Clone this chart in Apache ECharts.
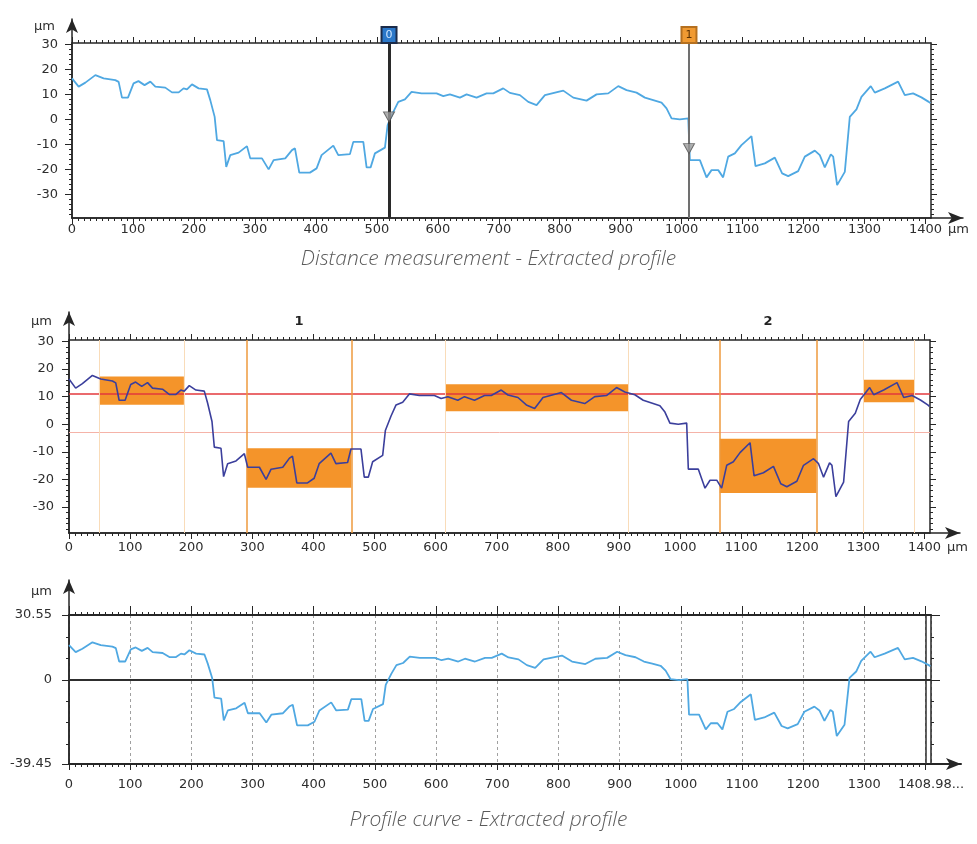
<!DOCTYPE html>
<html><head><meta charset="utf-8">
<script src="https://cdn.jsdelivr.net/npm/echarts@6/dist/echarts.min.js"></script>
<style>html,body{margin:0;padding:0;background:#fff}#c{width:977px;height:844px}</style>
</head><body><div id="c"></div>
<script>
const XMAX = 1408.98;
const Y_MIN = -39.45;
const Y_MAX = 30.55;

const profileX = [0,10.9,21.9,38.3,51.9,71,76.5,82,91.8,101,109,119,128.5,136.7,153,164,175,183,188.6,196.8,207.7,221.4,226.8,234,237.8,248.7,253,259.6,273.3,287,292.4,311.6,322.5,330.7,349.8,360.8,365.7,372.8,390.3,401.2,409.4,428.6,436.8,455.9,461.4,477.8,483.2,489.8,496.9,513.3,517.7,527,535.2,546.1,557,573.4,598,609,619.9,636.3,647.2,663.6,680,691,707.3,718.3,734.7,748.4,762,775.7,805.8,822.2,844,860.4,879.6,896,909.6,926,939.7,953.4,967,975.2,983.4,997,1010.8,1013.5,1029.9,1040.8,1049,1060,1068,1076.3,1087.2,1098.1,1114.5,1121.1,1136.4,1152.8,1164.8,1174.7,1191.1,1202,1218.4,1226.6,1234.8,1244.6,1248.5,1255,1267.6,1275.8,1286.7,1294.9,1310.2,1316.8,1333.2,1355,1366,1379.6,1393.3,1405.3,1408];
const profileY = [16.4,13.1,14.7,17.7,16.4,15.7,15,8.7,8.7,14.4,15.3,13.7,15.1,13.1,12.7,10.8,10.8,12.4,12,14,12.4,12,7.7,1,-8.3,-8.7,-19,-14.3,-13.3,-10.7,-15.6,-15.6,-20,-16.3,-15.6,-12.3,-11.6,-21.3,-21.3,-19.6,-14.3,-10.5,-14.3,-13.9,-9,-9,-19.2,-19.2,-13.6,-11.3,-2.3,3,7,8,11,10.4,10.4,9.3,10,8.7,10,8.7,10.4,10.4,12.4,10.6,9.7,7,5.7,9.7,11.5,8.7,7.5,10,10.4,13.3,11.7,10.7,8.7,7.7,6.7,4.4,0.4,0,0.4,-16.3,-16.3,-23.2,-20.3,-20.3,-23.2,-14.9,-13.6,-10.3,-6.7,-18.7,-17.6,-15.3,-21.6,-22.7,-20.7,-14.9,-12.5,-14.3,-19.2,-14,-14.9,-26.3,-21,1,4,9,13.3,10.7,12.4,15.1,9.7,10.4,8.8,7,6.5];

const xTickLabels = [0,100,200,300,400,500,600,700,800,900,1000,1100,1200,1300,1400];
const profileXLabels = [0,100,200,300,400,500,600,700,800,900,1000,1100,1200,1300,XMAX];
const yTickLabels = [30,20,10,0,-10,-20,-30];
const profileTickLabels = [30.55,0,-39.45];
const profileMinorY = [20,10,-10,-20,-30];

const cursorX = [520,1012];
const cursorY = [1,-11.7];
const cursorNames = ['0','1'];

const boxX0 = [49,291,616,1065,1300];
const boxX1 = [188,462,915,1223,1383];
const boxYTop = [17.3,-8.7,14.5,-5.3,16.1];
const boxYBottom = [7.1,-23,4.7,-24.9,8];
const regionNames = ['1','2'];
const regionX0 = [291,1065];
const regionX1 = [462,1223];
const faintX = [49,188,616,915,1300,1383];
const meanLevel = 10.9;
const lowerLevel = -2.9;

const xMinor = []; for (let v = 0; v <= 1400; v += 10) xMinor.push(v);
const yMinor = []; for (let v = -38; v <= 30; v += 2) yMinor.push(v);

const profileData = profileX.map((x,i)=>[x, profileY[i]]);

const grids=[], xAxes=[], yAxes=[], series=[];
function addX(o){xAxes.push(o);return xAxes.length-1;}
function addY(o){yAxes.push(o);return yAxes.length-1;}
const LINE = '#262626';
const labelFont = {fontFamily:'DejaVu Sans', fontSize:13, color:'#2e2e2e'};
const hide = {axisLine:{show:false,onZero:false}, axisTick:{show:false}, axisLabel:{show:false}, splitLine:{show:false}};
function tick(vals,len,w){return {show:true, customValues:vals, length:len, inside:false, lineStyle:{color:LINE, width:w||1}};}
const plainNum = (v)=>String(v);

function panel(c){
  const g = grids.length;
  grids.push({left:c.left, top:c.top, width:c.width, height:c.height, containLabel:false, outerBoundsMode:'none'});
  grids.push({left:c.left, top:c.arrowTop, width:c.arrowRight-c.left, height:c.top+c.height-c.arrowTop, containLabel:false, outerBoundsMode:'none'});
  const bx = {type:'value', gridIndex:g, min:0, max:XMAX, nameMoveOverlap:false};
  const by = {type:'value', gridIndex:g, min:Y_MIN, max:Y_MAX, nameMoveOverlap:false};
  const ls = {color:LINE, width:c.frameW};
  const xi = addX({...bx, ...hide, position:'bottom',
    name:c.xName, nameLocation:'end', nameGap:17,
    nameTextStyle:{...labelFont, align:'left', verticalAlign:'top', padding:[c.xMargin,0,0,0]},
    axisLine:{show:true,onZero:false,lineStyle:ls},
    axisTick:tick(xTickLabels,6),
    axisLabel:{show:true, customValues:c.xLabels, formatter:c.xFormatter, margin:c.xMargin, ...labelFont}});
  addX({...bx, ...hide, position:'bottom', axisTick:tick(xMinor,3)});
  addX({...bx, ...hide, position:'top', axisLine:{show:true,onZero:false,lineStyle:ls}, axisTick:tick(xTickLabels,c.topTickLen)});
  addX({...bx, ...hide, position:'top', axisTick:tick(xMinor,3)});
  const yi = addY({...by, ...hide, position:'left', name:'µm', nameLocation:'end', nameGap:c.yNameGap,
    nameTextStyle:{...labelFont, align:'right', verticalAlign:'middle', padding:[0,17,0,0]},
    axisLine:{show:true,onZero:false,lineStyle:{color:LINE,width:1.5}},
    axisTick:tick(c.yMajor,7),
    axisLabel:{show:true, customValues:c.yLabels, formatter:plainNum, margin:c.yMargin, ...labelFont}});
  addY({...by, ...hide, position:'left', axisTick:tick(c.yMinor,3)});
  addY({...by, ...hide, position:'right', axisLine:{show:true,onZero:false,lineStyle:{color:LINE,width:1.5}}, axisTick:tick(c.yRightMajor,c.rightMajorLen)});
  addY({...by, ...hide, position:'right', axisTick:tick(c.yRightMinor,3)});
  addX({type:'value', gridIndex:g+1, min:0, max:1, ...hide, position:'bottom',
    axisLine:{show:true,onZero:false,symbol:['none','arrow'],symbolSize:[9,15],lineStyle:ls}});
  addY({type:'value', gridIndex:g+1, min:0, max:1, ...hide, position:'left',
    axisLine:{show:true,onZero:false,symbol:['none','arrow'],symbolSize:[9,14],lineStyle:{color:LINE,width:1.5}}});
  return {g, xi, yi};
}

const p1 = panel({left:72, top:43, width:859, height:175, arrowTop:19, arrowRight:963, frameW:1.5,
  xName:'µm', xMargin:5, xLabels:xTickLabels, xFormatter:plainNum, topTickLen:6,
  yNameGap:16, yMajor:yTickLabels, yLabels:yTickLabels, yMargin:14, yMinor:yMinor,
  yRightMajor:yTickLabels, rightMajorLen:6, yRightMinor:yMinor});
const p2 = panel({left:69, top:340, width:861, height:193, arrowTop:312, arrowRight:960, frameW:1.5,
  xName:'µm', xMargin:8, xLabels:xTickLabels, xFormatter:plainNum, topTickLen:6,
  yNameGap:18, yMajor:yTickLabels, yLabels:yTickLabels, yMargin:15, yMinor:yMinor,
  yRightMajor:yTickLabels, rightMajorLen:6, yRightMinor:yMinor});
const p3 = panel({left:69, top:615, width:862, height:149, arrowTop:580, arrowRight:961, frameW:2,
  xName:'', xMargin:14, xLabels:profileXLabels,
  xFormatter:(v)=> (v===XMAX ? '1408.98...' : String(v)), topTickLen:9,
  yNameGap:23, yMajor:profileTickLabels, yLabels:profileTickLabels, yMargin:17, yMinor:profileMinorY,
  yRightMajor:profileTickLabels, rightMajorLen:9, yRightMinor:profileMinorY});
// dashed vertical grid for bottom panel
addX({type:'value', gridIndex:p3.g, min:0, max:XMAX, interval:100, ...hide, position:'bottom',
  splitLine:{show:true, lineStyle:{color:'#a0a0a0', type:[3,3], width:1}}});

const solid = (color,width)=>({color, width, type:'solid'});

// Top panel
series.push({type:'line', xAxisIndex:p1.xi, yAxisIndex:p1.yi, data:profileData, symbol:'none', z:3,
  lineStyle:{color:'#4fa8e2', width:1.8},
  markLine:{silent:true, symbol:['none','none'], animation:false, label:{show:false},
    data: cursorX.map((x,i)=>({xAxis:x, name:cursorNames[i],
      lineStyle: i===0 ? solid('#2a2a2a',3) : solid('#707070',2),
      label:{show:true, position:'end', distance:1, formatter:'{b}', fontFamily:'DejaVu Sans', fontSize:11,
        color: i===0 ? '#cfe6ff' : '#5a3000',
        backgroundColor: i===0 ? '#2b78c9' : '#f09a32',
        borderColor: i===0 ? '#1b2b4a' : '#b5701f', borderWidth:2, padding:[2,3,1,3]}}))}});
series.push({type:'scatter', xAxisIndex:p1.xi, yAxisIndex:p1.yi, data:cursorX.map((x,i)=>[x,cursorY[i]]),
  symbol:'triangle', symbolRotate:180, symbolSize:[11,10], z:6,
  itemStyle:{color:'#9b9b9b', borderColor:'#505050', borderWidth:1}});

// Middle panel
const areaData = boxX0.map((x,i)=>[{coord:[x, boxYTop[i]]},{coord:[boxX1[i], boxYBottom[i]]}]);
regionX0.forEach((x,i)=>{
  areaData.push([{xAxis:x, name:regionNames[i], itemStyle:{color:'rgba(0,0,0,0)'},
    label:{show:true, position:'top', distance:12, formatter:'{b}', fontFamily:'DejaVu Sans', fontWeight:'bold', fontSize:13, color:'#222'}},
    {xAxis:regionX1[i]}]);
});
const midLines = [
  {yAxis:meanLevel, lineStyle:solid('#e3393c',1.5)},
  {yAxis:lowerLevel, lineStyle:solid('#f5b3a8',1)}
].concat(faintX.map(x=>({xAxis:x, lineStyle:solid('#f9dcb9',1)})))
 .concat(regionX0.concat(regionX1).map(x=>({xAxis:x, lineStyle:solid('#ee9a3e',1.5)})));
series.push({type:'line', xAxisIndex:p2.xi, yAxisIndex:p2.yi, data:profileData, symbol:'none', z:3,
  lineStyle:{color:'#3b3f9c', width:1.6},
  markArea:{silent:true, z:1, itemStyle:{color:'#f4942a'}, label:{show:false}, data:areaData},
  markLine:{silent:true, z:2, symbol:['none','none'], animation:false, label:{show:false}, data:midLines}});

// Bottom panel
series.push({type:'line', xAxisIndex:p3.xi, yAxisIndex:p3.yi, data:profileData, symbol:'none', z:3,
  lineStyle:{color:'#4fa8e2', width:1.8},
  markLine:{silent:true, z:2, symbol:['none','none'], animation:false, label:{show:false},
    data:[{yAxis:0, lineStyle:solid('#2e2e2e',2)}, {xAxis:1400, lineStyle:solid('#2e2e2e',1.5)}]}});

const capStyle = {fontFamily:'Open Sans', fontStyle:'italic', fontWeight:300, fontSize:21, color:'#5a5a5a'};
const chart = echarts.init(document.getElementById('c'));
chart.setOption({
  animation:false,
  backgroundColor:'#fff',
  title:[
    {text:'Distance measurement - Extracted profile', left:'center', top:244, textStyle:capStyle},
    {text:'Profile curve - Extracted profile', left:'center', top:805, textStyle:capStyle}
  ],
  grid:grids, xAxis:xAxes, yAxis:yAxes, series:series
});
</script></body></html>
